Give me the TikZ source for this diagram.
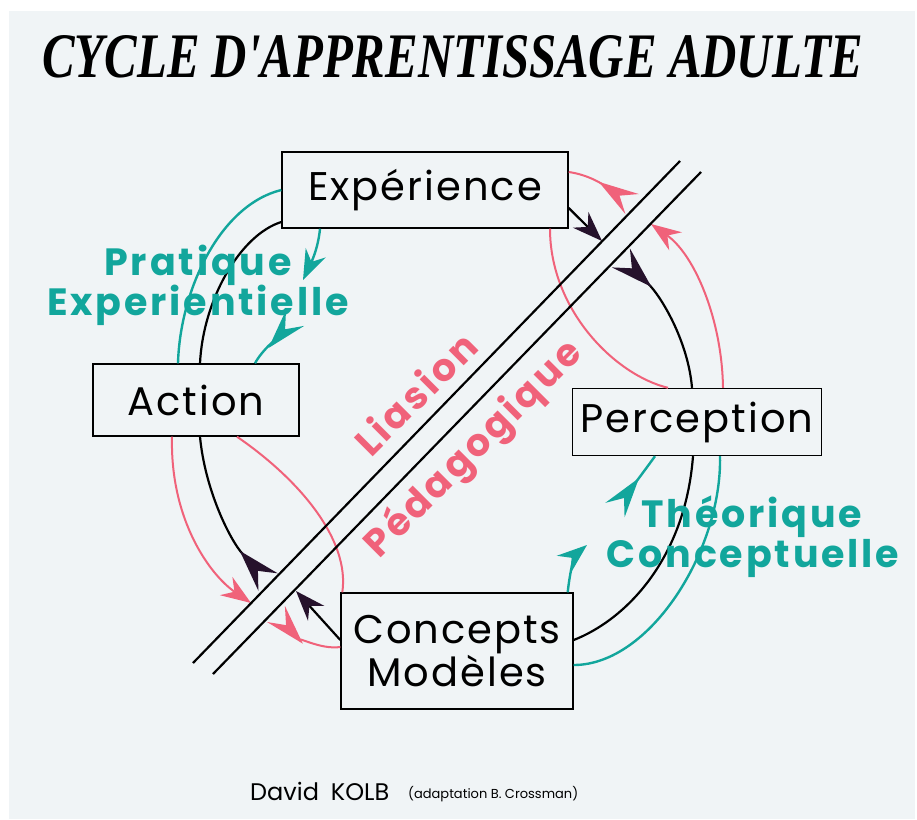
\documentclass[tikz,border=0pt]{standalone}
\usepackage{fontspec}
\setmainfont{Poppins}
\newfontfamily\titrefont{Liberation Serif}
\newfontfamily\boitefont[LetterSpace=5]{Poppins}
\newfontfamily\etiqfont[LetterSpace=7.5]{Poppins}
\usetikzlibrary{arrows.meta,positioning}
\definecolor{fond}{RGB}{240,244,246}
\definecolor{rose}{RGB}{240,98,122}
\definecolor{turq}{RGB}{18,166,156}
\definecolor{encre}{RGB}{38,18,44}

\begin{document}
\begin{tikzpicture}[x=1pt,y=-1pt,
	boite/.style={draw,line width=1.4pt,fill=fond,inner sep=0pt,align=center,font=\boitefont\fontsize{40}{41}\selectfont},
	cycle/.style={line width=2.2pt},
	liaison/.style={rose,line width=2pt},
	pratique/.style={turq,line width=2.4pt},
	fl/.style={-{Stealth[length=30pt,width=22pt,inset=10pt]}},
	flnoir/.style={-{Stealth[length=30pt,width=22pt,inset=10pt,color=encre]}},
	dard/.style={{Stealth[reversed,length=40pt,width=24pt,inset=15pt]}-},
	dardnoir/.style={{Stealth[reversed,length=42pt,width=26pt,inset=15pt,color=encre]}-},
	etiq/.style={font=\etiqfont\bfseries\fontsize{38}{38}\selectfont,inner sep=0pt}]
	\useasboundingbox (0,0) rectangle (917,819);
	\fill[white] (0,0) rectangle (917,819);
	\fill[fond] (9,11) rectangle (915,819);

	\node[anchor=base west,inner sep=0pt] (titre) at (42,77) {\resizebox{821pt}{42pt}{\titrefont\bfseries\itshape CYCLE D'APPRENTISSAGE ADULTE}};

	\node[boite,minimum width=286pt,minimum height=76pt] (exp) at (425,190) {Expérience};
	\node[boite,minimum width=206pt,minimum height=72pt] (act) at (196,400) {Action};
	\node[boite,minimum width=249pt,minimum height=67pt] (perc) at (697,422) {Perception};
	\node[boite,minimum width=232pt,minimum height=116pt] (conc) at (457,651) {Concepts\\Modèles};

	\coordinate (l1a) at (193,663);
	\coordinate (l1b) at (680,161);
	\coordinate (l2a) at (213,674);
	\coordinate (l2b) at (701,172);
	\coordinate (b1) at (602,241);
	\coordinate (b2) at (621,258);
	\coordinate (b3) at (296,591);
	\coordinate (b4) at (268,582);
	\coordinate (b5) at (651,224);
	\coordinate (b6) at (632,204);
	\coordinate (b7) at (251,603);
	\coordinate (b8) at (276,614);
	\coordinate (t1) at (303,280);
	\coordinate (t2) at (295,318);
	\coordinate (t3) at (587,545);
	\coordinate (t4) at (615,510);

	\draw[cycle,flnoir] ([yshift=-18pt]exp.east) -- (b1);
	\draw[cycle,dardnoir] (b2) .. controls (660,295) and (688,340) .. ([xshift=-5pt]perc.north);
	\draw[cycle] ([xshift=-4pt]perc.south) .. controls (685,560) and (625,620) .. ([yshift=11pt]conc.east);
	\draw[cycle,flnoir] ([yshift=11pt]conc.west) -- (b3);
	\draw[cycle,dardnoir] (b4) .. controls (230,540) and (205,490) .. ([xshift=4pt]act.south);
	\draw[cycle] ([xshift=4pt]act.north) .. controls (203,300) and (240,235) .. ([yshift=-32pt]exp.west);

	\draw[liaison,fl] ([xshift=26pt]perc.north) .. controls (722,320) and (695,255) .. (b5);
	\draw[liaison,dard] (b6) .. controls (605,186) and (590,175) .. ([yshift=18pt]exp.east);
	\draw[liaison] ([xshift=125pt]exp.south) .. controls (550,310) and (615,375) .. ([xshift=-29pt]perc.north);
	\draw[liaison,fl] ([xshift=-24pt]act.south) .. controls (170,520) and (210,575) .. (b7);
	\draw[liaison,dard] (b8) .. controls (295,635) and (320,650) .. ([yshift=4pt]conc.west);
	\draw[liaison] ([xshift=41pt]act.south) .. controls (300,480) and (350,540) .. ([xshift=2pt]conc.north west);

	\draw[pratique] (exp.west) .. controls (220,205) and (180,290) .. ([xshift=-18pt]act.north);
	\draw[pratique,fl] ([xshift=-105pt]exp.south) .. controls (318,250) and (310,265) .. (t1);
	\draw[pratique,dard] (t2) .. controls (280,335) and (262,350) .. ([xshift=59pt]act.north);
	\draw[pratique,fl] ([xshift=-6pt]conc.north east) .. controls (570,570) and (575,555) .. (t3);
	\draw[pratique,dard] (t4) .. controls (630,490) and (645,470) .. ([xshift=-42pt]perc.south);
	\draw[pratique] ([xshift=23pt]perc.south) .. controls (722,550) and (650,665) .. ([yshift=-14pt]conc.east);

	\draw[line width=2.2pt] (l1a) -- (l1b);
	\draw[line width=2.2pt] (l2a) -- (l2b);

	\node[etiq,turq,anchor=base] (prat) at (198,275) {Pratique};
	\node[etiq,turq,anchor=base] (expe) at (198,315) {Experientielle};
	\node[etiq,turq,anchor=base] (theo) at (752,527) {Théorique};
	\node[etiq,turq,anchor=base] (conce) at (753,567) {Conceptuelle};
	\node[etiq,rose,rotate=45] (lia) at (415,393) {Liasion};
	\node[etiq,rose,rotate=45] (peda) at (474,450) {Pédagogique};

	\node[anchor=base west,inner sep=0pt,font=\fontsize{24}{24}\selectfont] (auteur) at (250,800) {David\hspace{12pt}KOLB};
	\node[anchor=base west,inner sep=0pt,font=\fontsize{13}{13}\selectfont] (adapt) at (408,798) {(adaptation B. Crossman)};
\end{tikzpicture}
\end{document}
